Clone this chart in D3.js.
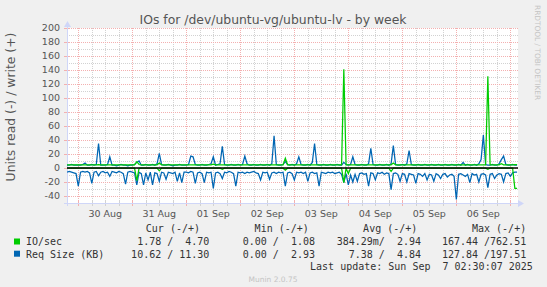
<!DOCTYPE html>
<html><head><meta charset="utf-8">
<script src="https://cdn.jsdelivr.net/npm/d3@7"></script>
<style>
html,body{margin:0;padding:0;background:#F0F0F0;}
svg{display:block}
text{white-space:pre}
</style>
</head><body>
<svg id="c" width="547" height="287"></svg>
<script>
// ---------- data ----------
const chartTitle = "IOs for /dev/ubuntu-vg/ubuntu-lv - by week";
const yAxisTitle = "Units read (-) / write (+)";
const yTickValues = [-40, -20, 0, 20, 40, 60, 80, 100, 120, 140, 160, 180, 200];
const dayTicks = ["2025-08-30", "2025-08-31", "2025-09-01", "2025-09-02", "2025-09-03", "2025-09-04", "2025-09-05", "2025-09-06"];
const dayLabels = ["30 Aug", "31 Aug", "01 Sep", "02 Sep", "03 Sep", "04 Sep", "05 Sep", "06 Sep"];
const sampleStart = "2025-08-29T19:00:00Z"; // hourly samples
const seriesNames = ["IO/sec", "Req Size (KB)"];
const seriesColors = ["#00CC00", "#0066B3"];
const legendHeaders = ["Cur (-/+)", "Min (-/+)", "Avg (-/+)", "Max (-/+)"];
const ioStats = ["1.78 /  4.70", "0.00 /  1.08", "384.29m/  2.94", "167.44 /762.51"];
const reqStats = ["10.62 / 11.30", "0.00 /  2.93", "7.38 /  4.84", "127.84 /197.51"];
const lastUpdate = "Last update: Sun Sep  7 02:30:07 2025";
const watermark = "Munin 2.0.75";
const sideText = "RRDTOOL / TOBI OETIKER";

// IO/sec write (+)
const ioWrite = [
  4.5,4.5,4.6,4.5,4.5,
  4.5,4.6,4.5,4.4,4.5,4.5,4.6,4.5,4.5,4.7,4.5,4.5,4.4,4.5,4.6,4.5,4.5,4.5,4.4,4.5,4.6,4.5,4.5,4.5,
  4.5,4.6,9,5,4.5,4.5,4.4,4.5,4.5,4.6,4.5,4.5,7,4.6,4.5,4.5,4.4,4.5,4.5,4.6,4.5,4.5,4.4,4.5,
  4.5,4.5,4.6,4.5,4.5,4.4,4.5,4.5,4.6,4.5,4.5,4.5,5.5,4.5,4.5,4.6,4.5,4.5,4.4,4.5,4.5,4.6,4.5,4.5,
  4.5,4.5,4.6,4.5,4.5,4.4,4.5,4.5,4.6,4.5,4.5,4.5,4.4,4.5,4.6,4.5,4.5,4.5,4.4,4.5,14,4.6,4.5,4.5,
  4.5,4.6,4.5,4.5,4.4,4.5,4.5,4.6,4.5,4.5,4.5,4.4,4.5,4.6,4.5,4.5,4.5,4.4,4.5,4.5,4.6,4.5,141,4.5,
  4.5,4.5,4.6,4.5,4.5,4.4,4.5,4.5,4.6,4.5,4.5,4.5,4.4,4.5,4.6,4.5,4.5,4.5,4.4,4.5,7,4.6,4.5,4.5,
  4.5,4.6,4.5,4.5,4.4,4.5,4.5,4.6,4.5,4.5,4.5,4.4,4.5,4.6,4.5,4.5,4.5,4.4,4.5,4.5,4.6,4.5,4.5,4.5,
  4.5,4.5,4.6,4.5,4.5,4.4,4.5,4.5,4.6,4.5,4.5,4.5,4.4,4.5,131,4.6,4.5,4.5,4.4,4.5,6,4.5,4.5,4.5,
  4.5,4.6,4.7,4.7
];
// IO/sec read (-), magnitudes
const ioRead = [
  0.3,0.3,0.3,0.3,0.3,
  0.3,0.3,0.3,0.3,0.3,0.3,0.3,0.3,0.3,0.3,0.3,0.3,0.3,0.3,0.3,0.3,0.3,0.3,0.3,0.3,0.3,0.3,0.3,0.3,
  0.3,0.3,18,0.5,0.3,0.3,0.3,0.3,0.3,0.3,0.3,0.3,4,0.3,0.3,0.3,0.3,0.3,0.3,0.3,0.3,0.3,0.3,0.3,
  0.3,0.3,0.3,0.3,0.3,0.3,0.3,0.3,0.3,0.3,0.3,0.3,0.3,0.3,0.3,0.3,2,0.3,0.3,0.3,0.3,0.3,0.3,0.3,
  0.3,0.3,0.3,0.3,0.3,0.3,0.3,0.3,0.3,0.3,0.3,0.3,0.3,0.3,0.3,0.3,0.3,0.3,0.3,0.3,3,0.3,0.3,0.3,
  0.3,0.3,0.3,0.3,0.3,0.3,0.3,0.3,0.3,0.3,0.3,0.3,0.3,0.3,0.3,0.3,0.3,0.3,0.3,0.3,0.3,0.3,21,0.5,
  8,0.3,0.3,0.3,0.3,0.3,0.3,0.3,0.3,0.3,0.3,0.3,0.3,0.3,0.3,0.3,0.3,0.3,0.3,5,0.3,0.3,0.3,0.3,
  0.3,0.3,0.3,0.3,0.3,0.3,0.3,0.3,0.3,0.3,0.3,0.3,0.3,0.3,0.3,0.3,0.3,0.3,0.3,0.3,0.3,0.3,0.3,0.3,
  0.3,0.3,0.3,0.3,0.3,0.3,0.3,0.3,0.3,0.3,0.3,0.3,0.3,0.3,2,0.3,0.3,0.3,0.3,0.3,0.3,0.3,0.3,0.3,
  0.3,0.3,29,29
];
// Req Size write (+)
const reqWrite = [
  4,4,5,4,4,
  4,4,5,7,4,4,5,4,5,35,4,4,4,5,16,4,4,3,4,5,4,4,3,4,
  4,5,8,10,4,4,5,4,4,5,4,6,21,5,4,4,5,4,3,4,4,5,4,4,
  4,5,17,16,5,4,4,5,4,4,5,6,16,4,5,6,31,5,4,4,5,4,4,5,
  4,5,17,6,4,4,5,4,4,5,4,4,5,4,6,46,5,4,4,5,9,5,4,5,
  4,6,16,5,4,4,5,4,8,35,5,4,4,5,4,4,5,4,4,5,4,4,8,5,
  4,5,16,5,4,4,5,4,4,6,28,5,4,4,5,4,4,5,4,6,32,5,4,4,
  5,4,6,25,5,4,4,5,4,4,5,4,4,5,4,4,5,4,4,5,4,4,5,4,
  4,5,4,8,4,5,4,4,5,4,6,12,47,5,4,4,5,4,4,6,12,17,5,4,
  4,5,4,4
];
// Req Size read (-), magnitudes
const reqRead = [
  6,5,6,7,8,
  26,6,5,6,5,7,22,6,5,11,6,5,7,6,12,5,6,7,5,6,8,23,6,5,
  6,7,24,6,8,24,7,17,6,24,7,8,19,6,7,16,6,7,8,6,19,7,21,6,
  6,7,5,6,22,7,6,8,21,6,7,6,29,7,6,8,15,6,7,5,6,8,26,6,
  7,6,8,6,7,6,5,7,8,17,6,7,6,16,7,6,8,6,7,6,26,7,6,8,
  17,6,7,6,8,6,19,7,6,8,7,26,6,7,8,6,7,6,8,7,6,9,21,8,
  24,10,20,9,19,8,7,9,8,26,7,8,17,7,8,6,9,7,8,31,8,7,9,19,
  8,9,20,8,9,10,22,8,9,12,8,17,9,10,19,8,10,15,9,8,13,10,9,12,
  45,9,8,10,12,9,21,8,10,9,20,9,8,10,28,9,8,15,10,8,9,20,8,7,
  12,7,6,6
];

// ---------- layout ----------
const PL = 67, PR = 518, PT = 28, PB = 203;
const svg = d3.select("#c");
const FONT = "'DejaVu Sans', Verdana, sans-serif";
const MONO = "'DejaVu Sans Mono', monospace";

const t0 = new Date(sampleStart).getTime();
const times = ioWrite.map((_, i) => new Date(t0 + i * 3600e3));

const x = d3.scaleUtc()
  .domain([new Date(Date.UTC(2025, 7, 29, 18, 59)), new Date(Date.UTC(2025, 8, 7, 3, 24))])
  .range([PL, PR]);
const y = d3.scaleLinear().domain([-50, 200]).range([PB, PT]);

// canvas
svg.append("rect").attr("x", PL).attr("y", PT).attr("width", PR - PL).attr("height", PB - PT).attr("fill", "#FFFFFF");

const minorCol = "#d2d2d2", majorCol = "#f3b0b0";
const g = svg.append("g");
// minor horizontal
d3.range(-30, 200, 20).forEach(v => {
  const yy = Math.round(y(v)) + 0.5;
  g.append("line").attr("x1", PL).attr("x2", PR).attr("y1", yy).attr("y2", yy)
    .attr("stroke", minorCol).attr("stroke-dasharray", "1,1");
});
// minor vertical (6h)
const [d0, d1] = x.domain();
d3.utcHour.every(6).range(d0, d1).filter(d => d.getUTCHours() !== 0).forEach(d => {
  const xx = Math.round(x(d)) + 0.5;
  g.append("line").attr("x1", xx).attr("x2", xx).attr("y1", PT).attr("y2", PB)
    .attr("stroke", minorCol).attr("stroke-dasharray", "1,1");
  svg.append("line").attr("x1", xx).attr("x2", xx).attr("y1", PB - 2).attr("y2", PB + 3)
    .attr("stroke", minorCol);
});
// major horizontal
yTickValues.forEach(v => {
  const yy = Math.round(y(v)) + 0.5;
  g.append("line").attr("x1", PL).attr("x2", PR).attr("y1", yy).attr("y2", yy)
    .attr("stroke", majorCol).attr("stroke-dasharray", "1,1");
  svg.append("line").attr("x1", PL - 3).attr("x2", PL + 2).attr("y1", yy).attr("y2", yy)
    .attr("stroke", majorCol);
});
// major vertical (midnight)
d3.utcDay.range(d0, d1).forEach(d => {
  const xx = Math.round(x(d)) + 0.5;
  g.append("line").attr("x1", xx).attr("x2", xx).attr("y1", PT).attr("y2", PB)
    .attr("stroke", majorCol).attr("stroke-dasharray", "1,1");
  svg.append("line").attr("x1", xx).attr("x2", xx).attr("y1", PB - 2).attr("y2", PB + 3)
    .attr("stroke", majorCol);
});

// axes lines + arrows
const axisCol = "#CFD6F8";
svg.append("line").attr("x1", PL - 3).attr("x2", PR + 2).attr("y1", PB + 0.5).attr("y2", PB + 0.5).attr("stroke", axisCol);
svg.append("line").attr("x1", PL + 0.5).attr("x2", PL + 0.5).attr("y1", PB + 3).attr("y2", PT - 3).attr("stroke", axisCol);
svg.append("path").attr("d", `M${PR},${PB - 3} L${PR + 6},${PB + 0.5} L${PR},${PB + 4} Z`).attr("fill", axisCol);
svg.append("path").attr("d", `M${PL - 3},${PT - 1} L${PL + 0.5},${PT - 7} L${PL + 4},${PT - 1} Z`).attr("fill", axisCol);

// y tick labels
yTickValues.forEach(v => {
  svg.append("text").attr("x", 60).attr("y", y(v)).attr("dy", "0.36em")
    .attr("text-anchor", "end").attr("font-family", FONT).attr("font-size", 9.5)
    .attr("fill", "#555").text(v);
});
// x labels at noon
dayTicks.forEach((d, i) => {
  const noon = new Date(d + "T12:00:00Z");
  svg.append("text").attr("x", x(noon)).attr("y", 216.6)
    .attr("text-anchor", "middle").attr("font-family", FONT).attr("font-size", 9.5)
    .attr("fill", "#555").text(dayLabels[i]);
});

// ---------- series ----------
svg.append("clipPath").attr("id", "pc").append("rect")
  .attr("x", PL).attr("y", PT - 1).attr("width", PR - PL).attr("height", PB - PT + 1);
const plot = svg.append("g").attr("clip-path", "url(#pc)");
const line = d3.line().x((d, i) => x(times[i])).y(d => y(d));
const lw = 1.25;
plot.append("path").attr("d", line(reqRead.map(v => -v))).attr("fill", "none").attr("stroke", seriesColors[1]).attr("stroke-width", lw);
plot.append("path").attr("d", line(reqWrite)).attr("fill", "none").attr("stroke", seriesColors[1]).attr("stroke-width", lw);
plot.append("path").attr("d", line(ioRead.map(v => -v))).attr("fill", "none").attr("stroke", seriesColors[0]).attr("stroke-width", lw);
plot.append("path").attr("d", line(ioWrite)).attr("fill", "none").attr("stroke", seriesColors[0]).attr("stroke-width", lw);
plot.append("line").attr("x1", PL).attr("x2", PR).attr("y1", y(0)).attr("y2", y(0))
  .attr("stroke", "#000").attr("stroke-width", 1.3);

// ---------- texts ----------
svg.append("text").attr("x", 273).attr("y", 23.5).attr("text-anchor", "middle")
  .attr("font-family", FONT).attr("font-size", 12.4).attr("fill", "#555").text(chartTitle);
svg.append("text").attr("transform", "translate(15,107) rotate(-90)").attr("text-anchor", "middle")
  .attr("font-family", FONT).attr("font-size", 12.4).attr("fill", "#555").text(yAxisTitle);
svg.append("text").attr("transform", "translate(535,5) rotate(90)").attr("text-anchor", "start")
  .attr("font-family", FONT).attr("font-size", 7.4).attr("fill", "#c4c4c4").text(sideText);
svg.append("text").attr("x", 273).attr("y", 282).attr("text-anchor", "middle")
  .attr("font-family", FONT).attr("font-size", 7.5).attr("fill", "#c4c4c4").text(watermark);

// legend
const legCol = "#333";
const headEnds = [200, 308.8, 417.3, 526.2];
const valEnds = [209.4, 315, 421, 526.2];
legendHeaders.forEach((h, i) => {
  svg.append("text").attr("x", headEnds[i]).attr("y", 232.2).attr("text-anchor", "end")
    .attr("font-family", MONO).attr("font-size", 10).attr("fill", legCol).text(h);
});
[ioStats, reqStats].forEach((stats, r) => {
  const yy = 245.4 + r * 12.2;
  svg.append("rect").attr("x", 14).attr("y", 238.5 + r * 12.2).attr("width", 6).attr("height", 6).attr("fill", seriesColors[r]);
  svg.append("text").attr("x", 26).attr("y", yy).attr("font-family", MONO).attr("font-size", 10).attr("fill", legCol).text(seriesNames[r]);
  stats.forEach((s, i) => {
    svg.append("text").attr("x", valEnds[i]).attr("y", yy).attr("text-anchor", "end")
      .attr("font-family", MONO).attr("font-size", 10).attr("fill", legCol).text(s);
  });
});
svg.append("text").attr("x", 532.8).attr("y", 269.8).attr("text-anchor", "end")
  .attr("font-family", MONO).attr("font-size", 10).attr("fill", legCol).text(lastUpdate);
</script>
</body></html>
